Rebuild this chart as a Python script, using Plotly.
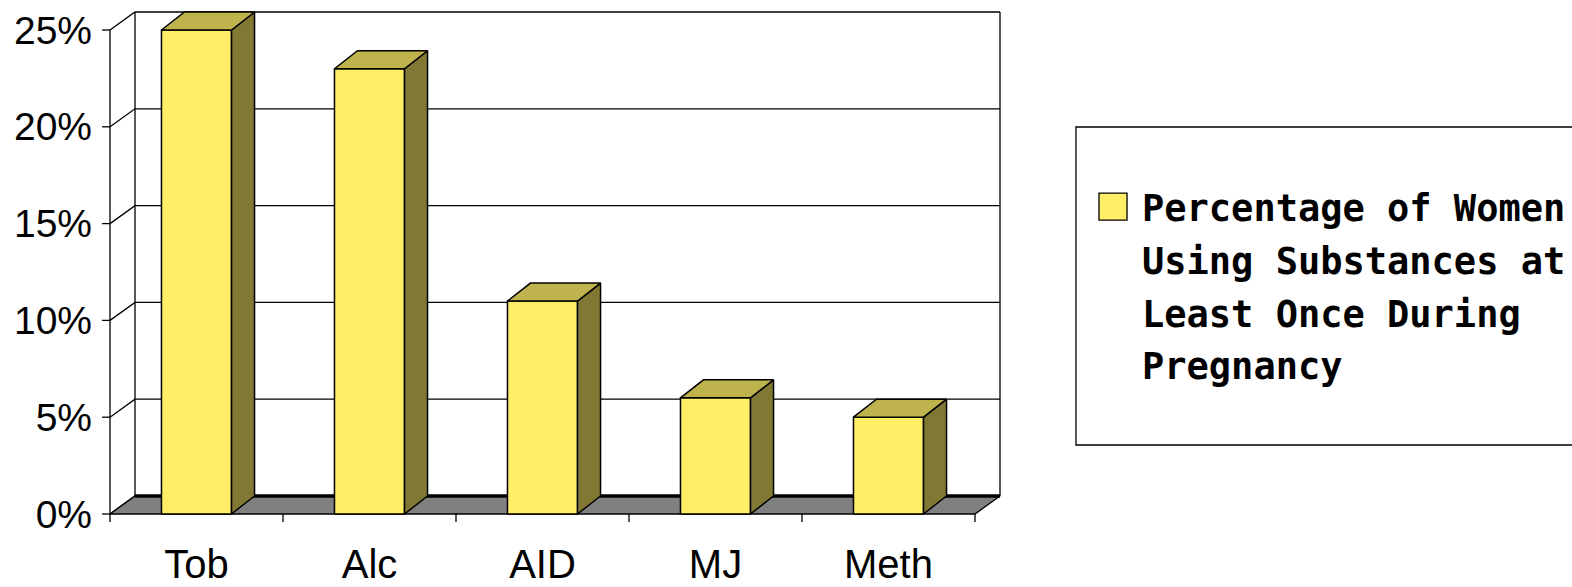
import plotly.graph_objects as go

# ---- data ----
categories = ["Tob", "Alc", "AID", "MJ", "Meth"]
values = [25, 23, 11, 6, 5]
y_ticks = [0, 5, 10, 15, 20, 25]
y_tick_labels = ["0%", "5%", "10%", "15%", "20%", "25%"]
legend_lines = ["Percentage of Women", "Using Substances at", "Least Once During", "Pregnancy"]

# ---- style / geometry (in axis units) ----
FRONT = "#FFEE66"
TOP = "#BFB34D"
SIDE = "#807833"
FLOOR = "#808080"
DX, DY = 0.1445, 0.93      # wall depth
BDX, BDY = 0.133, 0.93     # bar depth
HW = 0.2025                # bar half width
n = len(categories)
x_lo, x_hi = -0.5, n - 0.5
y_top = max(y_ticks)

fig = go.Figure()

def poly(xs, ys, fill, width=1.5):
    fig.add_trace(go.Scatter(x=xs + [xs[0]], y=ys + [ys[0]], mode="lines",
                             fill="toself", fillcolor=fill,
                             line=dict(color="black", width=width),
                             hoverinfo="skip", showlegend=False))

def lines(xs, ys, width=1.3):
    fig.add_trace(go.Scatter(x=xs, y=ys, mode="lines",
                             line=dict(color="black", width=width),
                             hoverinfo="skip", showlegend=False))

# back wall gridlines + side slants
gx, gy = [], []
for v in y_ticks:
    gx += [x_lo, x_lo + DX, x_hi + DX, None]
    gy += [v, v + DY, v + DY, None]
lines(gx, gy)
# back wall verticals and front-left vertical
lines([x_lo + DX, x_lo + DX, None, x_hi + DX, x_hi + DX, None, x_lo, x_lo],
      [DY, y_top + DY, None, DY, y_top + DY, None, 0, y_top])

# floor
poly([x_lo, x_hi, x_hi + DX, x_lo + DX], [0, 0, DY, DY], FLOOR, width=1.3)
lines([x_lo + DX, x_hi + DX], [DY, DY], width=3.5)

# tick marks
tx, ty = [], []
for v in y_ticks:
    tx += [x_lo - 0.046, x_lo, None]
    ty += [v, v, None]
for k in range(n + 1):
    b = x_lo + k
    tx += [b, b, None]
    ty += [0, -0.413, None]
lines(tx, ty)

# bars
for i, v in enumerate(values):
    l, r = i - HW, i + HW
    poly([l, r, r, l], [0, 0, v, v], FRONT)
    poly([r, r + BDX, r + BDX, r], [0, BDY, v + BDY, v], SIDE)
    poly([l, r, r + BDX, l + BDX], [v, v, v + BDY, v + BDY], TOP)

# legend (box, swatch, text) in paper coords
fig.add_shape(type="rect", xref="paper", yref="paper",
              x0=1.0725, x1=1.64, y0=0.154, y1=0.7586,
              line=dict(color="black", width=1.3), fillcolor="white")
fig.add_shape(type="rect", xref="paper", yref="paper",
              x0=1.0978, x1=1.1286, y0=0.5817, y1=0.633,
              line=dict(color="black", width=1.3), fillcolor=FRONT)
line_y = [0.6045, 0.5038, 0.403, 0.3023]
for txt, yy in zip(legend_lines, line_y):
    fig.add_annotation(x=1.1429, y=yy, xref="paper", yref="paper",
                       text="<b>" + txt + "</b>", showarrow=False,
                       xanchor="left", yanchor="middle",
                       font=dict(family="DejaVu Sans Mono", size=37, color="black"))

fig.update_layout(
    width=1572, height=587,
    margin=dict(l=100, r=562, t=0, b=61, autoexpand=False),
    plot_bgcolor="white", paper_bgcolor="white",
    showlegend=False,
    font=dict(family="Liberation Sans", color="black"),
    xaxis=dict(range=[-0.5578, 4.7023], tickvals=list(range(n)), ticktext=categories,
               showgrid=False, zeroline=False, showline=False, ticks="",
               tickfont=dict(size=40), ticklabelstandoff=11,
               automargin=False, fixedrange=True),
    yaxis=dict(range=[-0.62, 26.55], tickvals=y_ticks, ticktext=y_tick_labels,
               showgrid=False, zeroline=False, showline=False, ticks="",
               tickfont=dict(size=39), ticklabelstandoff=7,
               automargin=False, fixedrange=True),
)

fig.write_html("out.html", config={"displayModeBar": False},
               post_script="document.body.style.margin='0';")
